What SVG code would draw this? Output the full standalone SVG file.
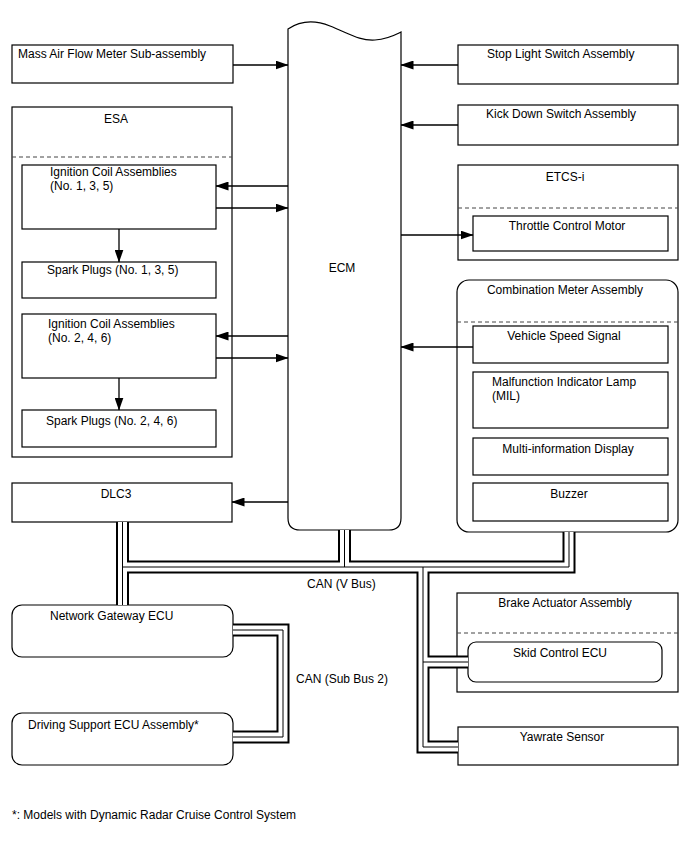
<svg xmlns="http://www.w3.org/2000/svg" width="688" height="852" viewBox="0 0 688 852">
<style>
text{font-family:"Liberation Sans",Arial,sans-serif;font-size:12px;fill:#000}
.c{text-anchor:middle}
.b{fill:#fff;stroke:#000;stroke-width:1.2}
.d{fill:none;stroke:#444;stroke-width:1;stroke-dasharray:4,3}
.a{fill:none;stroke:#000;stroke-width:1.3;marker-end:url(#ah)}
.k{fill:none;stroke:#000;stroke-width:13;stroke-linejoin:miter}
.w{fill:none;stroke:#fff;stroke-width:9;stroke-linejoin:miter}
.t{fill:none;stroke:#000;stroke-width:1;stroke-linejoin:miter}
</style>
<defs>
<marker id="ah" markerWidth="13" markerHeight="9" refX="12.5" refY="4.5" orient="auto" markerUnits="userSpaceOnUse">
<path d="M0,0 L13,4.5 L0,9 Z" fill="#000"/>
</marker>
</defs>
<rect width="688" height="852" fill="#fff"/>

<g id="ecm">
<path class="b" d="M288,29 C300,21 315,20 330,26 C350,34 360,41 375,40 C388,39 395,35 401,32 L401,518 Q401,530 389,530 L300,530 Q288,530 288,518 Z"/>
<text class="c" x="342" y="272">ECM</text>
</g>

<g id="maf">
<rect class="b" x="12" y="45" width="221" height="38"/>
<text x="18" y="58">Mass Air Flow Meter Sub-assembly</text>
</g>

<g id="esa">
<rect class="b" x="12" y="107" width="220" height="350"/>
<line class="d" x1="12" y1="157" x2="232" y2="157"/>
<text class="c" x="116" y="123">ESA</text>
</g>
<g id="coil1">
<rect class="b" x="22" y="165" width="194" height="64"/>
<text x="50" y="176">Ignition Coil Assemblies</text>
<text x="50" y="190">(No. 1, 3, 5)</text>
</g>
<g id="spark1">
<rect class="b" x="22" y="262" width="194" height="36"/>
<text x="47" y="274">Spark Plugs (No. 1, 3, 5)</text>
</g>
<g id="coil2">
<rect class="b" x="22" y="314" width="194" height="64"/>
<text x="48" y="328">Ignition Coil Assemblies</text>
<text x="48" y="342">(No. 2, 4, 6)</text>
</g>
<g id="spark2">
<rect class="b" x="22" y="410" width="194" height="37"/>
<text x="46" y="425">Spark Plugs (No. 2, 4, 6)</text>
</g>

<g id="dlc3">
<rect class="b" x="12" y="483" width="220" height="39"/>
<text class="c" x="116" y="498">DLC3</text>
</g>

<g id="gateway">
<rect class="b" x="12" y="605" width="221" height="52" rx="10"/>
<text x="50" y="620">Network Gateway ECU</text>
</g>

<g id="dsecu">
<rect class="b" x="12" y="713" width="221" height="52" rx="10"/>
<text x="28" y="729">Driving Support ECU Assembly*</text>
</g>

<g id="stoplight">
<rect class="b" x="458" y="45" width="220" height="39"/>
<text x="487" y="58">Stop Light Switch Assembly</text>
</g>

<g id="kickdown">
<rect class="b" x="458" y="105" width="220" height="40"/>
<text x="486" y="118">Kick Down Switch Assembly</text>
</g>

<g id="etcs">
<rect class="b" x="458" y="165" width="220" height="95"/>
<line class="d" x1="458" y1="208" x2="678" y2="208"/>
<text class="c" x="565" y="181">ETCS-i</text>
</g>
<g id="throttle">
<rect class="b" x="473" y="216" width="195" height="35"/>
<text class="c" x="567" y="230">Throttle Control Motor</text>
</g>

<g id="combo">
<rect class="b" x="457" y="280" width="221" height="252" rx="12"/>
<line class="d" x1="457" y1="322" x2="678" y2="322"/>
<text class="c" x="565" y="294">Combination Meter Assembly</text>
</g>
<g id="vss">
<rect class="b" x="473" y="326" width="195" height="37"/>
<text class="c" x="564" y="340">Vehicle Speed Signal</text>
</g>
<g id="mil">
<rect class="b" x="473" y="372" width="195" height="56"/>
<text x="492" y="386">Malfunction Indicator Lamp</text>
<text x="492" y="400">(MIL)</text>
</g>
<g id="mid">
<rect class="b" x="473" y="438" width="195" height="37"/>
<text class="c" x="568" y="453">Multi-information Display</text>
</g>
<g id="buzzer">
<rect class="b" x="473" y="483" width="195" height="38"/>
<text class="c" x="569" y="498">Buzzer</text>
</g>

<g id="brake">
<rect class="b" x="457" y="593" width="221" height="99"/>
<line class="d" x1="457" y1="633" x2="678" y2="633"/>
<text class="c" x="565" y="607">Brake Actuator Assembly</text>
</g>
<g id="skid">
<rect class="b" x="468" y="642" width="194" height="40" rx="8"/>
<text class="c" x="560" y="657">Skid Control ECU</text>
</g>

<g id="yawrate">
<rect class="b" x="458" y="727" width="220" height="38"/>
<text class="c" x="562" y="741">Yawrate Sensor</text>
</g>

<g id="connectors">
<line class="a" x1="233" y1="65" x2="288" y2="65"/>
<line class="a" x1="458" y1="65" x2="401" y2="65"/>
<line class="a" x1="458" y1="125" x2="401" y2="125"/>
<line class="a" x1="401" y1="235" x2="473" y2="235"/>
<line class="a" x1="473" y1="347" x2="401" y2="347"/>
<line class="a" x1="288" y1="186" x2="216" y2="186"/>
<line class="a" x1="216" y1="208" x2="288" y2="208"/>
<line class="a" x1="288" y1="336" x2="216" y2="336"/>
<line class="a" x1="216" y1="358" x2="288" y2="358"/>
<line class="a" x1="119" y1="229" x2="119" y2="262"/>
<line class="a" x1="119" y1="378" x2="119" y2="410"/>
<line class="a" x1="288" y1="502" x2="232" y2="502"/>

<g id="canbus">
<path class="k" d="M122.5,522 V605 M122.5,567 H569 V532 M344.5,530 V567 M423,567 V747 H458 M423,662 H468 M233,630 H283 V737 H233"/>
<path class="w" d="M122.5,522 V605 M122.5,567 H569 V532 M344.5,530 V567 M423,567 V747 H458 M423,662 H468 M233,630 H283 V737 H233"/>
<path class="t" d="M122.5,522 V605 M122.5,567 H569 V532 M344.5,530 V567 M423,567 V747 H458 M423,662 H468 M233,630 H283 V737 H233"/>
</g>
<text x="307" y="588">CAN (V Bus)</text>
<text x="296" y="683">CAN (Sub Bus 2)</text>
</g>

<text x="12" y="819">*: Models with Dynamic Radar Cruise Control System</text>
</svg>
